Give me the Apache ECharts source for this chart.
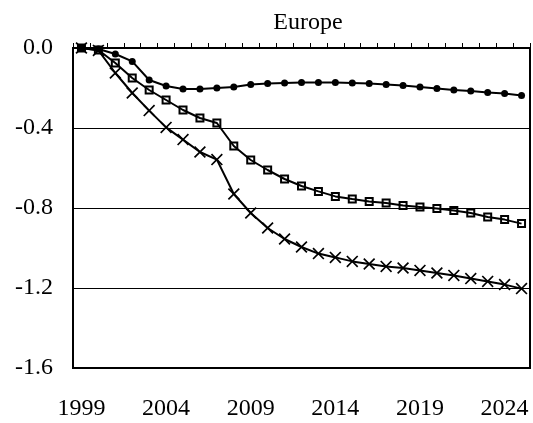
<!DOCTYPE html>
<html>
<head>
<meta charset="utf-8">
<title>Europe</title>
<script src="https://cdn.jsdelivr.net/npm/echarts@6/dist/echarts.min.js"></script>
<style>
  html, body { margin: 0; padding: 0; background: #fff; }
  #main { width: 533px; height: 423px; }
</style>
</head>
<body>
<div id="main"></div>
<script>
var years = ["1999", "2000", "2001", "2002", "2003", "2004", "2005", "2006", "2007", "2008",
  "2009", "2010", "2011", "2012", "2013", "2014", "2015", "2016", "2017", "2018",
  "2019", "2020", "2021", "2022", "2023", "2024", "2025"];
var yTicks = [0.0, -0.4, -0.8, -1.2, -1.6];

// dots / squares / crosses
var dotSeries = [0, -0.005, -0.03, -0.067, -0.16, -0.19, -0.205, -0.205, -0.2, -0.195,
  -0.183, -0.178, -0.175, -0.172, -0.172, -0.172, -0.175, -0.178, -0.183, -0.188,
  -0.195, -0.203, -0.21, -0.215, -0.222, -0.228, -0.237];
var squareSeries = [0, -0.01, -0.075, -0.15, -0.21, -0.26, -0.31, -0.35, -0.375, -0.49,
  -0.56, -0.61, -0.655, -0.69, -0.717, -0.742, -0.755, -0.767, -0.775, -0.787,
  -0.795, -0.803, -0.812, -0.825, -0.845, -0.858, -0.878];
var crossSeries = [0, -0.012, -0.125, -0.225, -0.313, -0.397, -0.458, -0.52, -0.558, -0.73,
  -0.825, -0.9, -0.955, -0.995, -1.028, -1.047, -1.067, -1.08, -1.092, -1.1,
  -1.112, -1.125, -1.137, -1.153, -1.167, -1.183, -1.203];

var font = "'Liberation Serif', 'DejaVu Serif', serif";
var crossPath = "path://M0,1L1,0L5,4L9,0L10,1L6,5L10,9L9,10L5,6L1,10L0,9L4,5Z";

var chart = echarts.init(document.getElementById("main"));
var option = {
  animation: false,
  backgroundColor: "#fff",
  title: {
    text: "Europe",
    left: 303,
    top: 6,
    textAlign: "center",
    textStyle: { fontFamily: font, fontSize: 24, fontWeight: "normal", color: "#000" }
  },
  grid: {
    left: 73,
    right: 3,
    top: 48,
    bottom: 55,
    show: true,
    borderColor: "#000",
    borderWidth: 2
  },
  xAxis: {
    type: "category",
    data: years,
    boundaryGap: true,
    axisLine: { lineStyle: { color: "#000", width: 2 } },
    axisTick: { show: true, inside: true, length: 5, interval: 0, lineStyle: { color: "#000", width: 1 } },
    axisLabel: {
      interval: 4,
      margin: 29,
      color: "#000",
      fontFamily: font,
      fontSize: 24
    },
    splitLine: { show: false }
  },
  yAxis: {
    type: "value",
    min: yTicks[yTicks.length - 1],
    max: yTicks[0],
    interval: 0.4,
    axisLine: { show: true, lineStyle: { color: "#000", width: 2 } },
    axisTick: { show: false },
    axisLabel: {
      margin: 20,
      color: "#000",
      fontFamily: font,
      fontSize: 24,
      formatter: function (v) { return v.toFixed(1); }
    },
    splitLine: { show: true, lineStyle: { color: "#000", width: 1 } }
  },
  series: [{
    type: "line",
    data: squareSeries,
    symbol: "rect",
    symbolSize: 7,
    showAllSymbol: true,
    lineStyle: { color: "#000", width: 2 },
    itemStyle: { color: "rgba(0,0,0,0)", borderColor: "#000", borderWidth: 2 }
  }, {
    type: "line",
    data: crossSeries,
    symbol: crossPath,
    symbolSize: 12,
    showAllSymbol: true,
    lineStyle: { color: "#000", width: 2 },
    itemStyle: { color: "#000" }
  }, {
    type: "line",
    data: dotSeries,
    symbol: "circle",
    symbolSize: 7,
    showAllSymbol: true,
    lineStyle: { color: "#000", width: 2 },
    itemStyle: { color: "#000", borderWidth: 0 }
  }]
};
chart.setOption(option);
</script>
</body>
</html>
